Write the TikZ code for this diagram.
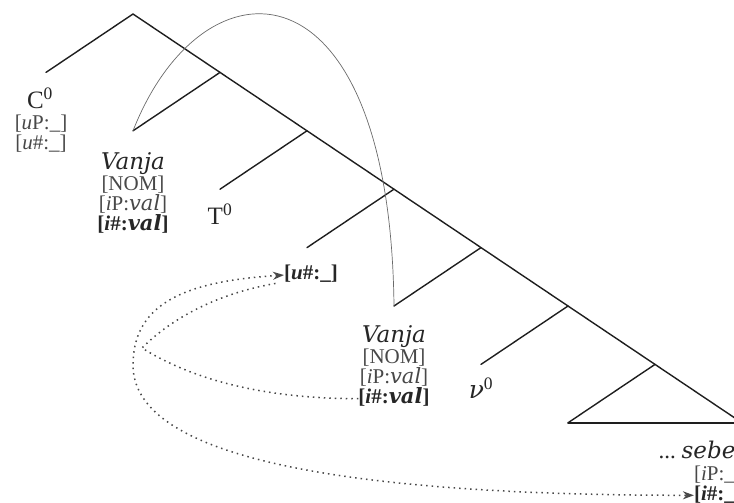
\documentclass[tikz,border=0pt]{standalone}
\usepackage{fontspec}
\setmainfont{Liberation Serif}
\newfontfamily\dvserif{DejaVu Serif}
\usetikzlibrary{positioning, calc, arrows.meta}
\definecolor{trInk}{HTML}{1E1E1E}
\definecolor{trText}{HTML}{262626}
\definecolor{trFeat}{HTML}{484848}
\definecolor{trMove}{HTML}{6A6A6A}
\newcommand{\itx}[1]{{\dvserif\itshape #1}}
\tikzset{
    trBranch/.style={draw=trInk, line width=1.4pt, line cap=round, line join=round},
    % Labels
    trHead/.style={inner sep=0pt, text height=18pt, text depth=3pt, font=\fontsize{25}{25}\selectfont, text=trText},
    trWord/.style={inner sep=0pt, text height=16pt, text depth=6.5pt, font=\fontsize{23}{23}\selectfont, text=trText},
    trFeat/.style={inner sep=0pt, text height=14.5pt, text depth=5pt, font=\fontsize{21}{20}\selectfont, text=trFeat},
    trFeatB/.style={trFeat, font=\fontsize{21}{20}\selectfont\bfseries, text=trText},
    % Links
    trMoveArc/.style={draw=trMove, line width=0.7pt},
    trAgree/.style={draw=trFeat, line width=1.5pt, dash pattern=on 1.5pt off 4pt},
    trTip/.style={{Stealth[length=11pt, width=8pt]}-{Stealth[length=11pt, width=8pt]}}
}

\begin{document}
\begin{tikzpicture}[x=1pt, y=-1pt]
    \useasboundingbox (0,0) rectangle (734,503);

    % tree skeleton on a regular grid
    \begin{scope}[shift={(133,14)}, x=87pt, y=-58.4pt]
        \coordinate (root) at (0,0);
        \coordinate (cend) at (-1,1);
        \coordinate (bot) at (7,7);
        \foreach \k in {1,...,6} {
            \coordinate (s\k) at (\k,\k);
            \coordinate (e\k) at (\k-1,\k+1);
        }
    \end{scope}

    \draw[trBranch] (cend) -- (root) -- (bot);
    \foreach \k in {1,...,6} \draw[trBranch] (s\k) -- (e\k);
    \draw[trBranch] (e6) -- (bot);

    \node[trHead, below=18pt of cend, xshift=-6pt] (C) {C\textsuperscript{0}};
    \node[trFeat, below=3pt of C, xshift=1pt] (CP) {[\textit{u}P:\_]};
    \node[trFeat, below=0pt of CP] (CN) {[\textit{u}\#:\_]};

    \node[trWord, below=22pt of e1] (vanjaHi) {\itx{Vanja}};
    \node[trFeat, below=0pt of vanjaHi] (vanjaHiC) {[NOM]};
    \node[trFeat, below=0pt of vanjaHiC] (vanjaHiP) {[\textit{i}P:\itx{val}]};
    \node[trFeatB, below=0pt of vanjaHiP] (vanjaHiN) {[\textit{i}\#:\itx{val}]};

    \node[trHead, below=17pt of e2] (T) {T\textsuperscript{0}};
    \node[trFeatB, below=17.5pt of e3, xshift=4pt] (uT) {[\textit{u}\#:\_]};

    \node[trWord, below=20pt of e4] (vanjaLo) {\itx{Vanja}};
    \node[trFeat, below=0pt of vanjaLo] (vanjaLoC) {[NOM]};
    \node[trFeat, below=0pt of vanjaLoC] (vanjaLoP) {[\textit{i}P:\itx{val}]};
    \node[trFeatB, below=0pt of vanjaLoP] (vanjaLoN) {[\textit{i}\#:\itx{val}]};

    \node[trHead, below=16pt of e5] (v) {\itx{ν}\textsuperscript{0}};

    \node[trWord] (sebe) at (697,454) {...\ \itx{sebe}};
    \node[trFeat, below=0pt of sebe, xshift=21pt] (sebeP) {[\textit{i}P:\_]};
    \node[trFeatB, below=0pt of sebeP] (sebeN) {[\textit{i}\#:\_]};

    % movement and agreement
    \draw[trMoveArc] (e1) .. controls +(70,-178) and +(-4,-353) .. (e4);
    \coordinate (cusp) at (142,348);
    \coordinate (loop) at (133,365);
    \draw[trAgree] (vanjaLoN.west) .. controls +(-110,0) and +(40,25) .. (cusp)
        .. controls +(30,-30) and +(-60,10) .. ([xshift=-6pt, yshift=2pt]uT.south west);
    \draw[trAgree, trTip] (uT.west) .. controls +(-92,6) and +(0,-65) .. (loop)
        .. controls +(0,85) and +(-384,0) .. (sebeN.west);
\end{tikzpicture}
\end{document}
